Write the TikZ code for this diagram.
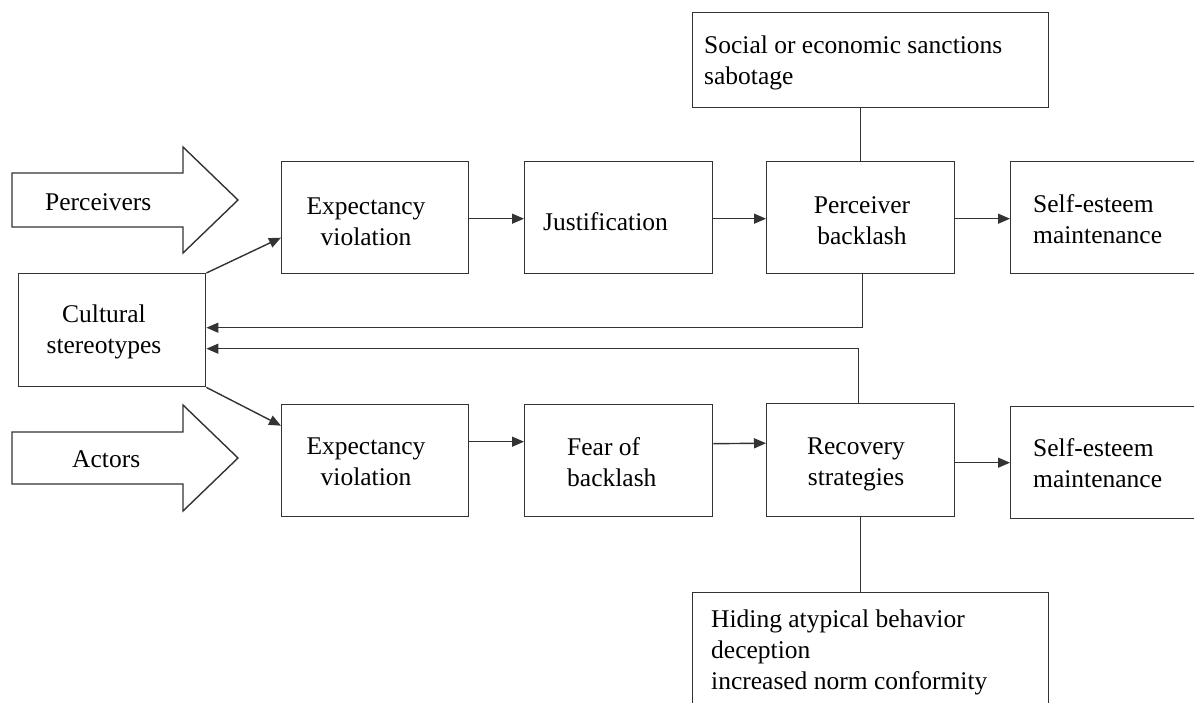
\documentclass[tikz,border=0pt]{standalone}
\usepackage{fontspec}
\setmainfont{Liberation Serif}
\usetikzlibrary{arrows.meta}
\begin{document}
\begin{tikzpicture}[x=1pt,y=-1pt,
  ln/.style={draw=black!80, line width=1.4pt},
  box/.style={ln, rectangle, inner sep=0pt, anchor=north west},
  txt/.style={font=\fontsize{25.5}{31}\selectfont, inner sep=0pt, text=black,
    execute at begin node=\strut, execute at end node=\strut},
  arr/.style={ln, -{Triangle[length=12pt,width=10pt]}},
  fat/.style={ln, line join=miter}]
\useasboundingbox (0,0) rectangle (1194,703);
\clip (0,0) rectangle (1194,703);

% fat input arrows
\draw[fat] (12,173) -- (183,173) -- (183,147) -- (238,200) -- (183,253) -- (183,227) -- (12,227) -- cycle;
\draw[fat] (12,432) -- (183,432) -- (183,405) -- (238,458) -- (183,511) -- (183,484) -- (12,484) -- cycle;
\node[txt, anchor=west] (tperc) at (45,204) {Perceivers};
\node[txt, anchor=west] (tact) at (72,461) {Actors};

% boxes
\node[box, minimum width=187pt, minimum height=113pt] (cult) at (18,273) {};
\node[box, minimum width=187pt, minimum height=112pt] (ev1) at (281,161) {};
\node[box, minimum width=188pt, minimum height=112pt] (just) at (524,161) {};
\node[box, minimum width=188pt, minimum height=112pt] (pb) at (766,161) {};
\node[box, minimum width=260pt, minimum height=112pt] (se1) at (1010,161) {};
\node[box, minimum width=187pt, minimum height=112pt] (ev2) at (281,404) {};
\node[box, minimum width=188pt, minimum height=112pt] (fear) at (524,404) {};
\node[box, minimum width=188pt, minimum height=113pt] (rec) at (766,403) {};
\node[box, minimum width=260pt, minimum height=112pt] (se2) at (1010,406) {};
\node[box, minimum width=356pt, minimum height=95pt] (soc) at (692,12) {};
\node[box, minimum width=356pt, minimum height=170pt] (hid) at (692,592) {};

% texts
\node[txt, align=center] (tcult) at (104,334) {Cultural\\stereotypes};
\node[txt, align=center] (tev1) at (366,226) {Expectancy\\violation};
\node[txt, anchor=west] (tjust) at (543,224) {Justification};
\node[txt, align=center] (tpb) at (862,225) {Perceiver\\backlash};
\node[txt, anchor=west, align=left] (tse1) at (1033,224) {Self-esteem\\maintenance};
\node[txt, align=center] (tev2) at (366,466) {Expectancy\\violation};
\node[txt, anchor=west, align=left] (tfear) at (567,466.5) {Fear of\\backlash};
\node[txt, align=center] (trec) at (856,466.5) {Recovery\\strategies};
\node[txt, anchor=west, align=left] (tse2) at (1033,467.5) {Self-esteem\\maintenance};
\node[txt, anchor=west, align=left] (tsoc) at (704,65) {Social or economic sanctions\\sabotage};
\node[txt, anchor=west, align=left] (thid) at (711,654) {Hiding atypical behavior\\deception\\increased norm conformity};

% connectors
\draw[arr] (cult.north east) -- ([yshift=-20pt]ev1.west);
\draw[arr] (cult.south east) -- ([yshift=35pt]ev2.west);
\draw[arr] ([yshift=-1pt]ev1.east) -- ([yshift=-1pt]just.west);
\draw[arr] ([yshift=-1pt]just.east) -- ([yshift=-1pt]pb.west);
\draw[arr] ([yshift=-1pt]pb.east) -- ([yshift=-1pt]se1.west);
\draw[arr] ([yshift=19pt]ev2.east) -- ([yshift=19pt]fear.west);
\draw[arr] ([yshift=17pt]fear.east) -- ([yshift=17pt]rec.west);
\draw[arr] ([yshift=-2.5pt]rec.east) -- (se2.west);
\draw[arr] ([xshift=2pt]pb.south) |- ([yshift=2.5pt]cult.east);
\draw[arr] ([xshift=-2pt]rec.north) |- ([yshift=-18.5pt]cult.east);
\draw[ln] (pb.north) -- (pb.north |- soc.south);
\draw[ln] (rec.south) -- (rec.south |- hid.north);
\end{tikzpicture}
\end{document}
